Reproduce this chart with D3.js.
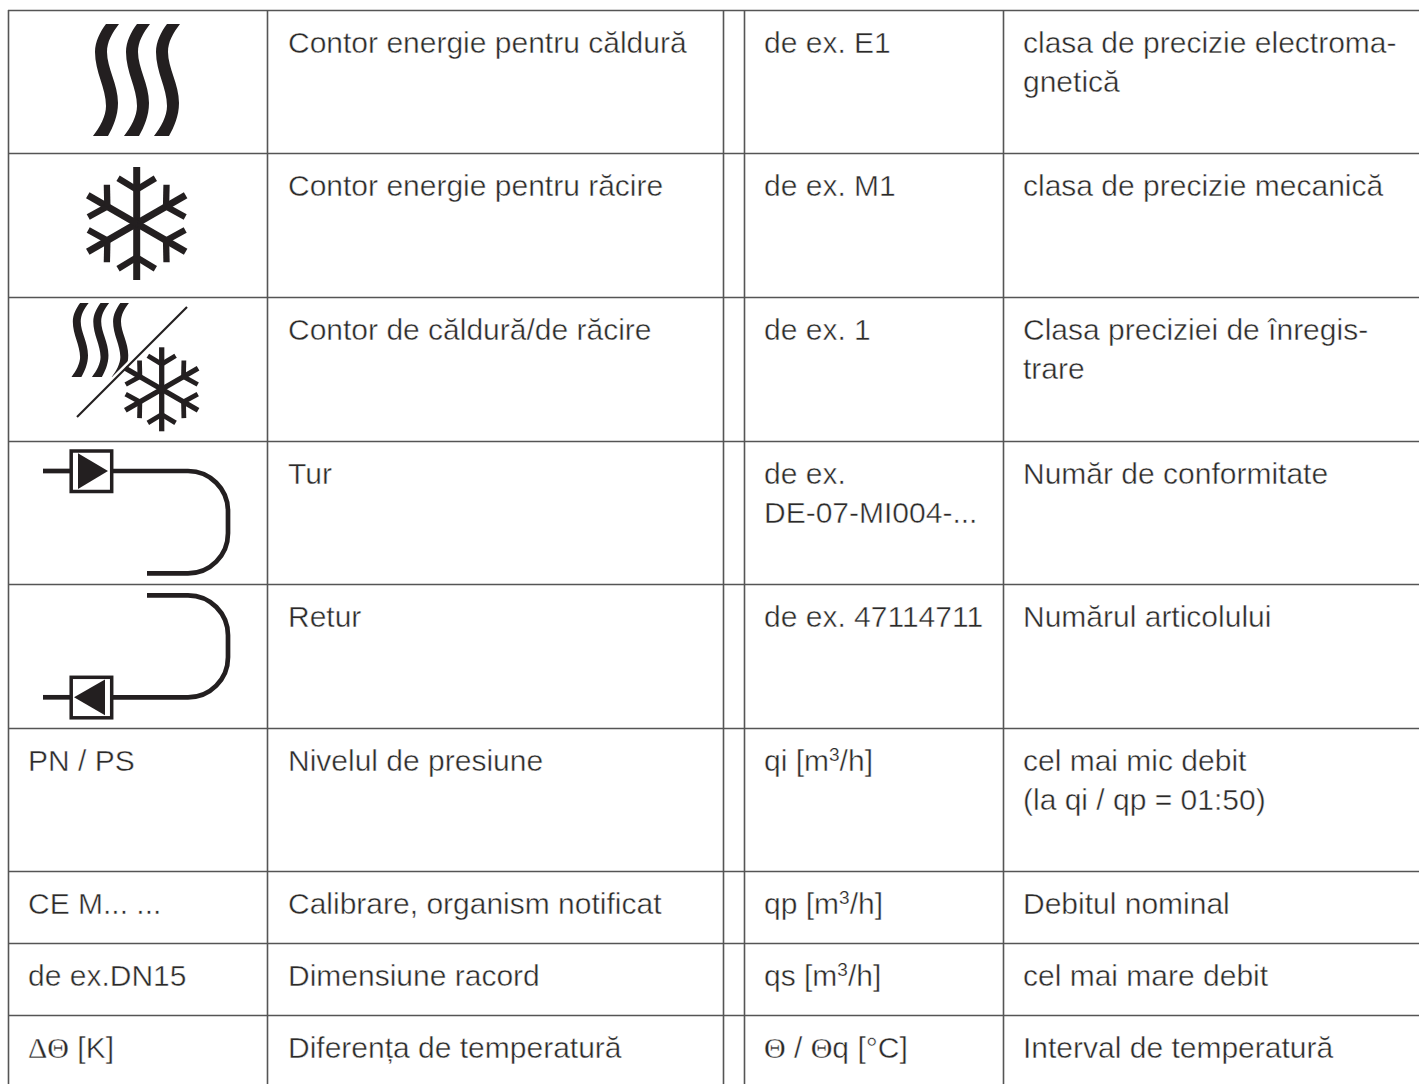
<!DOCTYPE html>
<html>
<head>
<meta charset="utf-8">
<script src="https://cdn.jsdelivr.net/npm/d3@7"></script>
<style>
  html, body { margin: 0; padding: 0; background: #fff; }
  /* thin white stroke on top of the fill, the source face is a light one */
  text { font-family: "Liberation Sans", sans-serif; font-size: 30px; fill: #2b2a29; stroke: #fff; stroke-width: 0.45px; }
  .serif { font-family: "Liberation Serif", serif; font-size: 30px; stroke-width: 0.3px; }
  .sup { font-size: 19px; stroke-width: 0.2px; }
</style>
</head>
<body>
<div id="chart"></div>
<script>

var rowEdges = [10, 153, 297, 441, 584, 728, 871, 943, 1015, 1084]
var columnEdges = [8, 267, 723, 744, 1003]

var col1Labels = [["PN / PS", 5], ["CE M... ...", 6], ["de ex.DN15", 7], ["ΔΘ [K]", 8]]
var col2Labels = ["Contor energie pentru căldură", "Contor energie pentru răcire", "Contor de căldură/de răcire", "Tur", "Retur",
  "Nivelul de presiune", "Calibrare, organism notificat", "Dimensiune racord", "Diferența de temperatură"]
var col3Labels = [["de ex. E1"], ["de ex. M1"], ["de ex. 1"], ["de ex.", "DE-07-MI004-..."], ["de ex. 47114711"],
  ["qi [m3/h]"], ["qp [m3/h]"], ["qs [m3/h]"], ["Θ / Θq [°C]"]]
var col4Labels = [["clasa de precizie electroma-", "gnetică"], ["clasa de precizie mecanică"], ["Clasa preciziei de înregis-", "trare"],
  ["Număr de conformitate"], ["Numărul articolului"], ["cel mai mic debit", "(la qi / qp = 01:50)"],
  ["Debitul nominal"], ["cel mai mare debit"], ["Interval de temperatură"]]

var width = 1419, height = 1084
var ink = "#231f20", rule = "#555"

var svg = d3.select("#chart").append("svg")
  .attr("width", width)
  .attr("height", height)
  .style("display", "block")

var y = d3.scaleOrdinal().domain(d3.range(rowEdges.length)).range(rowEdges)

// grid
svg.selectAll(".hline").data(rowEdges.slice(0, -1)).enter().append("line")
  .attr("x1", columnEdges[0]).attr("x2", width)
  .attr("y1", d => d + 0.5).attr("y2", d => d + 0.5)
  .attr("stroke", rule).attr("stroke-width", 1.6)

svg.selectAll(".vline").data(columnEdges).enter().append("line")
  .attr("x1", d => d + 0.5).attr("x2", d => d + 0.5)
  .attr("y1", rowEdges[0]).attr("y2", height)
  .attr("stroke", rule).attr("stroke-width", 1.6)

// text, greek letters go serif and the 3 of m3 goes up
function addLines(x, row, lines) {
  lines.forEach(function (line, i) {
    var t = svg.append("text")
      .attr("x", x)
      .attr("y", y(row) + 42.7 + i * 39.5)
    var drop = 0
    line.split(/(Δ|Θ|m3)/).filter(s => s != "").forEach(function (part) {
      if (part == "m3") {
        t.append("tspan").text("m").attr("dy", drop)
        t.append("tspan").text("3").attr("dy", -10).attr("class", "sup")
        drop = 10
        return
      }
      var span = t.append("tspan").text(part).attr("dy", drop)
      if (part == "Δ" || part == "Θ") span.attr("class", "serif")
      drop = 0
    })
  })
}

col1Labels.forEach(d => addLines(28, d[1], [d[0]]))
col2Labels.forEach((d, i) => addLines(288, i, [d]))
col3Labels.forEach((d, i) => addLines(764, i, d))
col4Labels.forEach((d, i) => addLines(1023, i, d))

function heatIcon(x, top, scale) {
  var g = svg.append("g").attr("transform", "translate(" + x + "," + top + ") scale(" + scale + ")")
  ;[0, 31, 61].forEach(function (dx) {
    var p = d3.path()
    p.moveTo(dx + 13, 0)
    p.lineTo(dx + 26, 0)
    p.bezierCurveTo(dx + 19, 9, dx + 14, 18, dx + 14, 28)
    p.bezierCurveTo(dx + 14, 44, dx + 25, 60, dx + 25, 79)
    p.bezierCurveTo(dx + 25, 92, dx + 20, 103, dx + 15, 112)
    p.lineTo(dx, 112)
    p.bezierCurveTo(dx + 7, 103, dx + 13, 92, dx + 13, 82)
    p.bezierCurveTo(dx + 13, 64, dx + 2, 48, dx + 2, 28)
    p.bezierCurveTo(dx + 2, 18, dx + 7, 8, dx + 13, 0)
    p.closePath()
    g.append("path").attr("d", p.toString()).attr("fill", ink)
  })
}

function snowIcon(cx, cy, r, sw) {
  var g = svg.append("g").attr("transform", "translate(" + cx + "," + cy + ")")
  d3.range(6).forEach(function (k) {
    var arm = g.append("g").attr("transform", "rotate(" + k * 60 + ")")
    arm.append("line").attr("x1", 0).attr("y1", 0).attr("x2", 0).attr("y2", -r)
      .attr("stroke", ink).attr("stroke-width", sw)
    ;[-1, 1].forEach(function (s) {
      arm.append("line").attr("x1", 0).attr("y1", -r * 0.6)
        .attr("x2", s * r * 0.33).attr("y2", -r * 0.8)
        .attr("stroke", ink).attr("stroke-width", sw * 0.9)
    })
  })
}

function pipeIcon(yBox, yEnd, dir) {
  var g = svg.append("g")
  var p = d3.path()
  p.moveTo(113, yBox)
  p.lineTo(188, yBox)
  var sign = yEnd > yBox ? 1 : -1
  p.arcTo(228, yBox, 228, yBox + sign * 40, 40)
  p.lineTo(228, yEnd - sign * 40)
  p.arcTo(228, yEnd, 188, yEnd, 40)
  p.lineTo(147, yEnd)
  g.append("path").attr("d", p.toString()).attr("fill", "none").attr("stroke", ink).attr("stroke-width", 4.7)
  g.append("line").attr("x1", 43).attr("x2", 71).attr("y1", yBox).attr("y2", yBox).attr("stroke", ink).attr("stroke-width", 4.7)
  g.append("rect").attr("x", 71.2).attr("y", yBox - 20).attr("width", 40.5).attr("height", 40.5)
    .attr("fill", "#fff").attr("stroke", ink).attr("stroke-width", 3.5)
  var tri = dir > 0 ? [[78, yBox - 17.7], [78, yBox + 18], [108, yBox]] : [[105, yBox - 17.7], [105, yBox + 18], [74, yBox]]
  g.append("path").attr("d", d3.line()(tri) + "Z").attr("fill", ink)
}

heatIcon(93, 24, 1)
snowIcon(136.7, 223.5, 56.5, 7)
heatIcon(71.5, 303, 0.66)
svg.append("line").attr("x1", 77).attr("y1", 417).attr("x2", 187).attr("y2", 307)
  .attr("stroke", "#fff").attr("stroke-width", 7)
svg.append("line").attr("x1", 77).attr("y1", 417).attr("x2", 187).attr("y2", 307)
  .attr("stroke", ink).attr("stroke-width", 2.2)
snowIcon(161.7, 389.3, 42, 5.3)
pipeIcon(471, 573.3, 1)
pipeIcon(697.3, 595.3, -1)

</script>
</body>
</html>
